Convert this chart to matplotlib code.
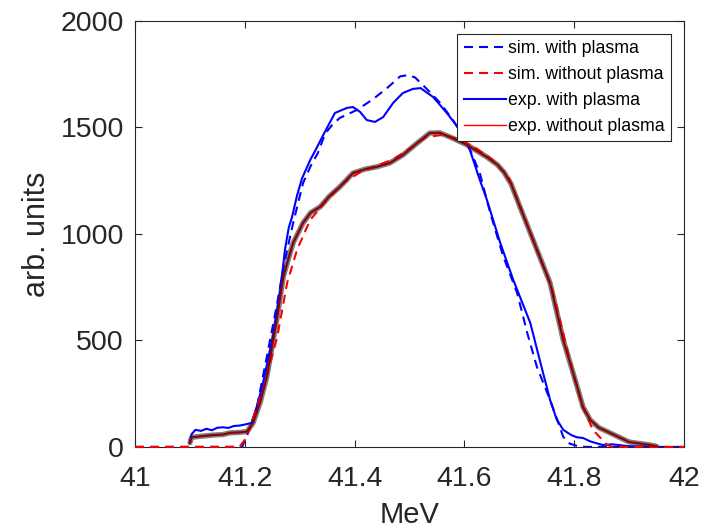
import matplotlib
matplotlib.use("Agg")
import matplotlib.pyplot as plt
from matplotlib.lines import Line2D

plt.rcParams['font.family'] = ['Liberation Sans', 'DejaVu Sans']

# exp. with plasma (blue solid)
exp_wp_x = [41.100, 41.103, 41.110, 41.120, 41.130, 41.140, 41.150, 41.160, 41.170, 41.180,
            41.190, 41.200, 41.213, 41.223, 41.233, 41.243, 41.251, 41.258, 41.264, 41.273,
            41.280, 41.286, 41.295, 41.304, 41.319, 41.330, 41.340, 41.350, 41.364, 41.375,
            41.386, 41.397, 41.410, 41.422, 41.437, 41.452, 41.470, 41.488, 41.506, 41.520,
            41.543, 41.568, 41.592, 41.610, 41.628, 41.641, 41.665, 41.689, 41.705, 41.720,
            41.738, 41.756, 41.768, 41.780, 41.795, 41.805, 41.816, 41.830, 41.852, 41.870,
            41.900, 41.950]
exp_wp_y = [20, 60, 80, 75, 85, 78, 90, 92, 89, 98,
            100, 105, 113, 200, 300, 420, 516, 630, 723, 925,
            1030, 1080, 1180, 1260, 1347, 1400, 1451, 1500, 1568, 1580,
            1592, 1596, 1573, 1535, 1526, 1549, 1615, 1662, 1681, 1685,
            1643, 1568, 1488, 1394, 1254, 1160, 960, 784, 680, 582,
            400, 221, 130, 80, 55, 45, 42, 25, 9, 12,
            3, 0]

# sim. with plasma (blue dashed)
sim_wp_x = [41.000, 41.195, 41.205, 41.213, 41.222, 41.240, 41.259, 41.273, 41.288, 41.306,
            41.320, 41.333, 41.346, 41.360, 41.373, 41.404, 41.434, 41.459, 41.483, 41.497,
            41.510, 41.528, 41.556, 41.579, 41.605, 41.628, 41.647, 41.670, 41.696, 41.715,
            41.732, 41.756, 41.770, 41.780, 41.792, 41.805, 41.820, 42.000]
sim_wp_y = [0, 0, 60, 120, 188, 423, 676, 878, 1052, 1239,
            1320, 1380, 1470, 1515, 1545, 1582, 1634, 1685, 1740, 1746,
            1735, 1690, 1615, 1535, 1427, 1286, 1099, 900, 723, 530,
            376, 221, 120, 47, 15, 5, 0, 0]

# exp. without plasma (dark red)
exp_np_x = [41.100, 41.103, 41.120, 41.140, 41.160, 41.173, 41.190, 41.204, 41.215, 41.228,
            41.240, 41.259, 41.270, 41.280, 41.288, 41.306, 41.320, 41.337, 41.355, 41.373,
            41.397, 41.420, 41.440, 41.464, 41.488, 41.514, 41.537, 41.555, 41.574, 41.605,
            41.641, 41.660, 41.672, 41.685, 41.700, 41.725, 41.756, 41.780, 41.798, 41.816,
            41.829, 41.845, 41.865, 41.900, 41.938, 41.950]
exp_np_y = [20, 45, 50, 55, 58, 66, 68, 72, 113, 210,
            329, 610, 798, 890, 958, 1052, 1100, 1127, 1180, 1221,
            1286, 1305, 1315, 1333, 1371, 1427, 1474, 1475, 1455, 1418,
            1361, 1325, 1290, 1235, 1135, 972, 770, 502, 347, 188,
            127, 90, 66, 23, 9, 3]

# sim. without plasma (red dashed)
sim_np_x = [41.000, 41.190, 41.200, 41.209, 41.233, 41.259, 41.277, 41.295, 41.319, 41.350,
            41.380, 41.410, 41.440, 41.470, 41.500, 41.530, 41.560, 41.590, 41.620, 41.650,
            41.680, 41.700, 41.732, 41.760, 41.798, 41.815, 41.834, 41.860, 41.870, 42.000]
sim_np_y = [0, 0, 33, 89, 268, 516, 770, 925, 1066, 1160,
            1240, 1290, 1320, 1350, 1400, 1455, 1465, 1445, 1405, 1350,
            1270, 1140, 925, 740, 347, 190, 80, 9, 0, 0]

labels = ["sim. with plasma", "sim. without plasma", "exp. with plasma", "exp. without plasma"]
xticks = [41, 41.2, 41.4, 41.6, 41.8, 42]
yticks = [0, 500, 1000, 1500, 2000]

fig = plt.figure(figsize=(7.11, 5.32), dpi=100)
ax = fig.add_axes([0.19, 0.16, 0.772, 0.8005])

dash = (4.3, 2.9)
ax.plot(exp_np_x, exp_np_y, color='#7f7f7f', lw=3.8, solid_capstyle='round', zorder=1)
l1, = ax.plot(sim_wp_x, sim_wp_y, color='#0000ff', lw=1.5, linestyle=(0, dash), zorder=2)
l3, = ax.plot(exp_wp_x, exp_wp_y, color='#0000ff', lw=1.5, zorder=2)
l2, = ax.plot(sim_np_x, sim_np_y, color='#ff0000', lw=1.5, linestyle=(0, dash), zorder=3, clip_on=False)
ax.plot(exp_np_x, exp_np_y, color='#8b0000', lw=1.5, zorder=4)
l4 = Line2D([], [], color='#ff0000', lw=1.0)

ax.set_xlim(41, 42)
ax.set_ylim(0, 2000)
ax.set_xticks(xticks)
ax.set_xticklabels([f"{t:g}" for t in xticks])
ax.set_yticks(yticks)
ax.tick_params(direction='in', top=True, right=True, labelsize=20.5, length=5,
               color='#262626', labelcolor='#262626', width=0.8)
ax.tick_params(axis='x', pad=14)
ax.tick_params(axis='y', pad=8)
for s in ax.spines.values():
    s.set_color('#262626')
    s.set_linewidth(0.8)
ax.set_xlabel("MeV", fontsize=21, color='#262626', labelpad=6)
ax.set_ylabel("arb. units", fontsize=22, color='#262626', labelpad=6)

leg = ax.legend([l1, l2, l3, l4], labels, loc='upper right', bbox_to_anchor=(0.976, 0.969),
                fontsize=12.8, handlelength=2.4, handletextpad=0.1, borderpad=0.35,
                labelspacing=0.5, fancybox=False, framealpha=1, edgecolor='#262626',
                borderaxespad=0)
leg.get_frame().set_linewidth(0.8)

fig.savefig("out.png", dpi=100)
